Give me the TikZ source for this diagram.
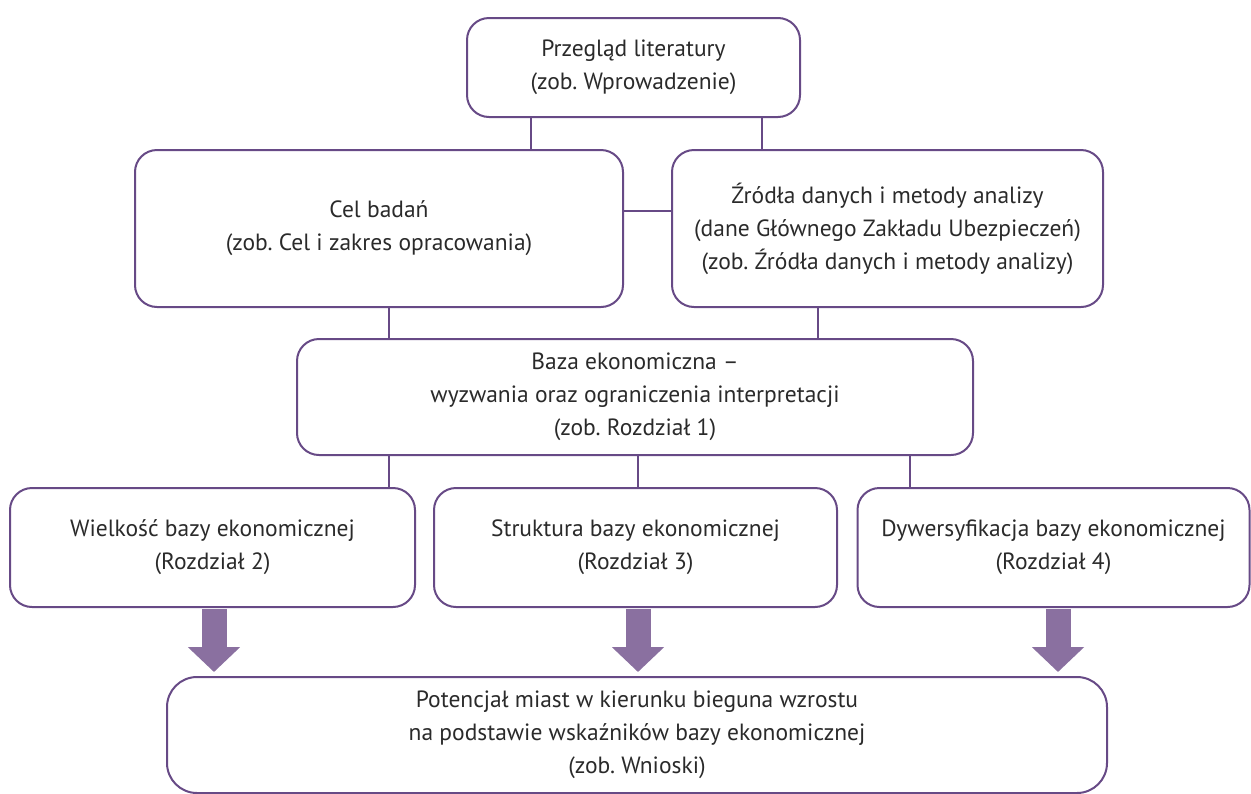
\documentclass[tikz,border=0pt]{standalone}
\usepackage{fontspec}
\setmainfont{PT Sans}
\usetikzlibrary{arrows.meta}
\definecolor{lineC}{HTML}{674A86}
\definecolor{arrC}{HTML}{8A70A0}
\definecolor{txtC}{HTML}{2A2A2A}
\frenchspacing
\begin{document}
\begin{tikzpicture}[x=1pt,y=-1pt,
  box/.style={draw=lineC, line width=2pt, rounded corners=22pt, align=center,
    text=txtC, font=\fontsize{23.5}{33}\selectfont, inner sep=0pt},
  conn/.style={draw=lineC, line width=2pt},
  bigarr/.style={draw=arrC, line width=25pt, -{Triangle[width=51pt,length=25pt]}, shorten >=4pt}]
\useasboundingbox (0,0) rectangle (1251,793);
\clip (0,0) rectangle (1251,793);
\node[box, minimum width=333, minimum height=99] (lit) at (633.5,67.5)
  {Przegląd literatury\\(zob. Wprowadzenie)};
\node[box, minimum width=488, minimum height=157] (cel) at (379,228.5)
  {Cel badań\\(zob. Cel i zakres opracowania)};
\node[box, minimum width=431, minimum height=157] (zrd) at (887.5,228.5)
  {Źródła danych i metody analizy\\(dane Głównego Zakładu Ubezpieczeń)\\(zob. Źródła danych i metody analizy)};
\node[box, minimum width=676, minimum height=116] (baza) at (635,397)
  {Baza ekonomiczna –\\wyzwania oraz ograniczenia interpretacji\\(zob. Rozdział 1)};
\node[box, minimum width=405, minimum height=119] (wiel) at (212.5,547.5)
  {Wielkość bazy ekonomicznej\\(Rozdział 2)};
\node[box, minimum width=403, minimum height=119] (str) at (635.5,547.5)
  {Struktura bazy ekonomicznej\\(Rozdział 3)};
\node[box, minimum width=392, minimum height=119] (dyw) at (1053.5,547.5)
  {Dywersyfikacja bazy ekonomicznej\\(Rozdział 4)};
\node[box, minimum width=940, minimum height=116, rounded corners=30pt] (pot) at (637,735)
  {Potencjał miast w kierunku bieguna wzrostu\\na podstawie wskaźników bazy ekonomicznej\\(zob. Wnioski)};
\coordinate (c1) at (531,0);
\coordinate (c2) at (762,0);
\coordinate (c3) at (0,211);
\coordinate (c4) at (389,0);
\coordinate (c5) at (818,0);
\coordinate (c6) at (389,0);
\coordinate (c7) at (638,0);
\coordinate (c8) at (910,0);
\coordinate (a1) at (214,0);
\coordinate (a2) at (638,0);
\coordinate (a3) at (1058,0);
\draw[conn] (lit.south -| c1) -- (cel.north -| c1);
\draw[conn] (lit.south -| c2) -- (zrd.north -| c2);
\draw[conn] (cel.east |- c3) -- (zrd.west |- c3);
\draw[conn] (cel.south -| c4) -- (baza.north -| c4);
\draw[conn] (zrd.south -| c5) -- (baza.north -| c5);
\draw[conn] (baza.south -| c6) -- (wiel.north -| c6);
\draw[conn] (baza.south -| c7) -- (str.north -| c7);
\draw[conn] (baza.south -| c8) -- (dyw.north -| c8);
\draw[bigarr] ([yshift=-1pt]wiel.south -| a1) -- (pot.north -| a1);
\draw[bigarr] ([yshift=-1pt]str.south -| a2) -- (pot.north -| a2);
\draw[bigarr] ([yshift=-1pt]dyw.south -| a3) -- (pot.north -| a3);
\end{tikzpicture}
\end{document}
